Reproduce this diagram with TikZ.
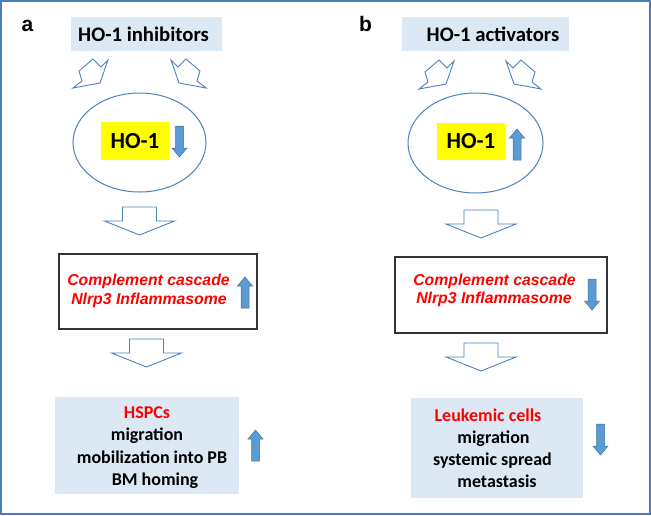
\documentclass[tikz,border=0pt]{standalone}
\usepackage{fontspec}
\setmainfont{Carlito}
\newfontfamily\arialfam{Liberation Sans}
\usetikzlibrary{shapes.geometric}
\definecolor{frameblue}{RGB}{74,126,187}
\definecolor{lightbox}{RGB}{220,232,243}
\definecolor{arrowfill}{RGB}{91,155,213}
\definecolor{arrowedge}{RGB}{65,113,156}
\definecolor{outlineblue}{RGB}{79,129,189}
\definecolor{hoyellow}{RGB}{255,255,0}
\definecolor{redtext}{RGB}{255,0,0}
\tikzset{
  lbox/.style={fill=lightbox, draw=none, inner sep=0},
  cbox/.style={draw=black!80, line width=1.3pt, fill=white, inner sep=0},
  ybox/.style={fill=hoyellow, inner sep=0, font=\fontsize{23}{26}\selectfont\bfseries},
  panel/.style={font=\arialfam\fontsize{21}{24}\selectfont\bfseries, anchor=base, inner sep=0},
  title/.style={font=\fontsize{20.7}{23}\selectfont\bfseries, anchor=base, inner sep=0},
  body/.style={font=\fontsize{18}{20}\selectfont\bfseries, anchor=base, inner sep=0},
  redbody/.style={body, text=redtext},
  reditalic/.style={font=\arialfam\fontsize{15.8}{18}\selectfont\bfseries\itshape, text=redtext, anchor=base, inner sep=0},
  hollow/.style={draw=outlineblue, line width=0.9pt, fill=white, line join=miter},
  solidarrow/.style={fill=arrowfill, draw=arrowedge, line width=0.5pt},
  oval/.style={draw=outlineblue, line width=1pt, ellipse, inner sep=0},
  blockdown/.pic={\path[hollow] (-17,0) -- (17,0) -- (17,14) -- (35,14) -- (0,28) -- (-35,14) -- (-17,14) -- cycle;},
  smalldown/.pic={\path[solidarrow] (-4,0) -- (4,0) -- (4,22) -- (7.5,22) -- (0,31) -- (-7.5,22) -- (-4,22) -- cycle;},
  smallup/.pic={\path[solidarrow] (-4,31) -- (4,31) -- (4,9) -- (7.5,9) -- (0,0) -- (-7.5,9) -- (-4,9) -- cycle;},
  diagright/.pic={\path[hollow] (0,1) -- (7,8) -- (15,0) -- (29,12) -- (26,22) -- (35,29) -- (8,24) -- cycle;},
  diagleft/.pic={\path[hollow] (35,1) -- (28,8) -- (20,0) -- (6,12) -- (9,22) -- (0,29) -- (27,24) -- cycle;},
}
\begin{document}
\begin{tikzpicture}[x=1pt, y=-1pt]
\useasboundingbox (0,0) rectangle (651,515);
\fill[white] (0,0) rectangle (651,515);
\draw[frameblue, line width=2pt] (1,1) rectangle (650,514);

% ---------- panel a ----------
\node[panel] (la) at (27.5,31) {a};
\node[lbox, minimum width=151pt, minimum height=34pt] (inhbox) at (146.5,34) {};
\node[title] (inhtext) at (143.5,41) {HO-1 inhibitors};
\pic (la1) at (73,59) {diagleft};
\pic (la2) at (171,59) {diagright};
\node[oval, minimum width=133pt, minimum height=99pt] (lell) at (139.5,142.5) {};
\node[ybox, minimum width=68pt, minimum height=38pt] (lho) at (135,141) {HO-1};
\pic (lhoarr) at (179.5,126) {smalldown};
\pic (lb1) at (139.5,207) {blockdown};
\node[cbox, minimum width=198pt, minimum height=75pt] (lcomp) at (158,291.5) {};
\node[reditalic] (lc1) at (148.5,285) {Complement cascade};
\node[reditalic] (lc2) at (149,304) {Nlrp3 Inflammasome};
\pic (lcarr) at (245,277) {smallup};
\pic (lb2) at (146.5,339) {blockdown};
\node[lbox, minimum width=184pt, minimum height=97pt] (lhsbox) at (147,445.5) {};
\node[redbody] (lh1) at (147,418) {HSPCs};
\node[body] (lh2) at (147,440.5) {migration};
\node[body] (lh3) at (152,463) {mobilization into PB};
\node[body] (lh4) at (155,485) {BM homing};
\pic (lharr) at (255.5,430) {smallup};

% ---------- panel b ----------
\node[panel] (lb) at (365.5,31.5) {b};
\node[lbox, minimum width=167pt, minimum height=34pt] (actbox) at (485.5,34) {};
\node[title] (acttext) at (493,41) {HO-1 activators};
\pic (ra1) at (419,60) {diagleft};
\pic (ra2) at (506,60) {diagright};
\node[oval, minimum width=135pt, minimum height=100pt] (rell) at (475.5,143) {};
\node[ybox, minimum width=68pt, minimum height=37pt] (rho) at (471,141.5) {HO-1};
\pic (rhoarr) at (517,129) {smallup};
\pic (rb1) at (481,210) {blockdown};
\node[cbox, minimum width=212pt, minimum height=76pt] (rcomp) at (501,295) {};
\node[reditalic] (rc1) at (494.5,285) {Complement cascade};
\node[reditalic] (rc2) at (494,303) {Nlrp3 Inflammasome};
\pic (rcarr) at (592,279) {smalldown};
\pic (rb2) at (481,343) {blockdown};
\node[lbox, minimum width=172pt, minimum height=100pt] (rlkbox) at (497,448) {};
\node[redbody] (rl1) at (488,421) {Leukemic cells};
\node[body] (rl2) at (493.5,443) {migration};
\node[body] (rl3) at (492.5,465) {systemic spread};
\node[body] (rl4) at (497,487) {metastasis};
\pic (rlarr) at (600.5,424) {smalldown};
\end{tikzpicture}
\end{document}
